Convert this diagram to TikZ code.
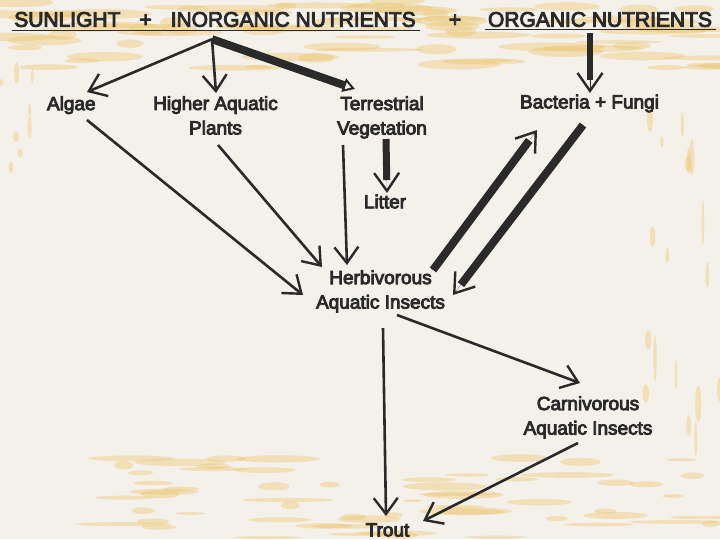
\documentclass[tikz,border=0pt]{standalone}
\usepackage{fontspec}
\newfontfamily\lblfont{Liberation Sans}[FakeBold=4.5]
\usetikzlibrary{arrows.meta}
\definecolor{ink}{HTML}{2A2A2A}
\definecolor{paper}{HTML}{F3F1EA}
\definecolor{stain}{HTML}{EEC56E}
\begin{document}
\begin{tikzpicture}[x=1pt,y=-1pt,
  lbl/.style={font=\lblfont\fontsize{19}{24.5}\selectfont, text=ink, align=center, inner sep=0pt},
  ttl/.style={font=\lblfont\fontsize{21}{24}\selectfont, text=ink, inner sep=0pt, anchor=base},
  uline/.style={draw=ink, line width=1.5pt},
  thinarrow/.style={draw=ink, line width=2.6pt, -{Straight Barb[length=16pt,width=24pt,line width=2.4pt]}},
  thickarrow/.style={draw=ink, line width=#1, shorten >=13pt,
    postaction={draw=ink, line width=0.1pt, shorten >=0pt, -{Straight Barb[length=18pt,width=25pt,line width=2.4pt]}}},
  thickarrow/.default=8pt,
  triarrow/.style={draw=ink, line width=8pt, -{Triangle[open,length=12pt,width=14pt,line width=2pt]}},
  blot/.style={fill=stain, opacity=.4}
]
\useasboundingbox (0,0) rectangle (720,539);
\clip (0,0) rectangle (720,539);
\fill[paper] (0,0) rectangle (720,539);
% stains (decorative background)
\pgfmathsetseed{42}
\foreach \i in {1,...,80}{
  \pgfmathsetmacro\cx{rnd*720}
  \pgfmathsetmacro\cy{rnd*68}
  \pgfmathsetmacro\rx{10+rnd*45}
  \pgfmathsetmacro\ry{1.5+rnd*4}
  \fill[blot] (\cx,\cy) ellipse [x radius=\rx pt, y radius=\ry pt];
}
\foreach \i in {1,...,60}{
  \pgfmathsetmacro\cx{120+rnd*600}
  \pgfmathsetmacro\cy{455+rnd*84}
  \pgfmathsetmacro\rx{8+rnd*40}
  \pgfmathsetmacro\ry{1.2+rnd*3}
  \fill[blot] (\cx,\cy) ellipse [x radius=\rx pt, y radius=\ry pt];
}
\foreach \i in {1,...,18}{
  \pgfmathsetmacro\cx{645+rnd*75}
  \pgfmathsetmacro\cy{110+rnd*340}
  \pgfmathsetmacro\rx{1+rnd*2.5}
  \pgfmathsetmacro\ry{5+rnd*18}
  \fill[blot] (\cx,\cy) ellipse [x radius=\rx pt, y radius=\ry pt];
}
\foreach \i in {1,...,8}{
  \pgfmathsetmacro\cx{rnd*40}
  \pgfmathsetmacro\cy{70+rnd*200}
  \pgfmathsetmacro\rx{1+rnd*2.5}
  \pgfmathsetmacro\ry{3+rnd*8}
  \fill[blot] (\cx,\cy) ellipse [x radius=\rx pt, y radius=\ry pt];
}

% titles
\node[ttl] (t1) at (215,26.7) {SUNLIGHT\hspace{19pt}+\hspace{19pt}INORGANIC NUTRIENTS};
\node[ttl] (plus) at (455,26.7) {+};
\node[ttl] (t2) at (600,26.7) {ORGANIC NUTRIENTS};
\draw[uline] ([shift={(-2,4)}]t1.base west) -- ([shift={(4,4)}]t1.base east);
\draw[uline] ([shift={(-3,3)}]t2.base west) -- ([shift={(4,3)}]t2.base east);
\coordinate (src) at ([shift={(-3,12.5)}]t1.base);

% labels
\node[lbl] (algae)  at (71.3,105.2) {Algae};
\node[lbl] (higher) at (215.5,115.4) {Higher Aquatic\\Plants};
\node[lbl] (terr)   at (382,117.4) {Terrestrial\\Vegetation};
\node[lbl] (bact)   at (589.5,103.5) {Bacteria + Fungi};
\node[lbl] (litter) at (385,201.5) {Litter};
\node[lbl] (herb)   at (380.5,291.4) {Herbivorous\\Aquatic Insects};
\node[lbl] (carn)   at (588,417.4) {Carnivorous\\Aquatic Insects};
\node[lbl] (trout)  at (387.5,530) {Trout};

% connectors
\draw[thinarrow] (src) -- ([shift={(15.7,-13.2)}]algae.center);
\draw[thinarrow] (src) -- ([shift={(0.5,-22.4)}]higher.center);
\draw[triarrow] (src) -- ([shift={(-27,-28.4)}]terr.center);
\draw[thickarrow=6pt] ([shift={(-10,6.3)}]t2.base) -- ([shift={(0.5,-10.5)}]bact.center);
\draw[thickarrow=7pt] ([shift={(4,21.6)}]terr.center) -- ([shift={(2,-8.5)}]litter.center);
\draw[thinarrow] ([shift={(15.7,14.8)}]algae.center) -- ([shift={(-77.5,3.6)}]herb.center);
\draw[thinarrow] ([shift={(2.5,29.6)}]higher.center) -- ([shift={(-58.5,-24.4)}]herb.center);
\draw[thinarrow] ([shift={(-39,27.6)}]terr.center) -- ([shift={(-33.5,-26.4)}]herb.center);
\draw[thickarrow] ([shift={(52.5,-21.4)}]herb.center) -- ([shift={(-52.5,26.5)}]bact.center);
\draw[thickarrow] ([shift={(-6.5,21.5)}]bact.center) -- ([shift={(72.5,3.6)}]herb.center);
\draw[thinarrow] ([shift={(16.5,23.6)}]herb.center) -- ([shift={(-8,-34.4)}]carn.center);
\draw[thinarrow] ([shift={(2.5,36.6)}]herb.center) -- ([shift={(-1.5,-14)}]trout.center);
\draw[thinarrow] ([shift={(-10,25.6)}]carn.center) -- ([shift={(35.5,-9)}]trout.center);
\end{tikzpicture}
\end{document}
